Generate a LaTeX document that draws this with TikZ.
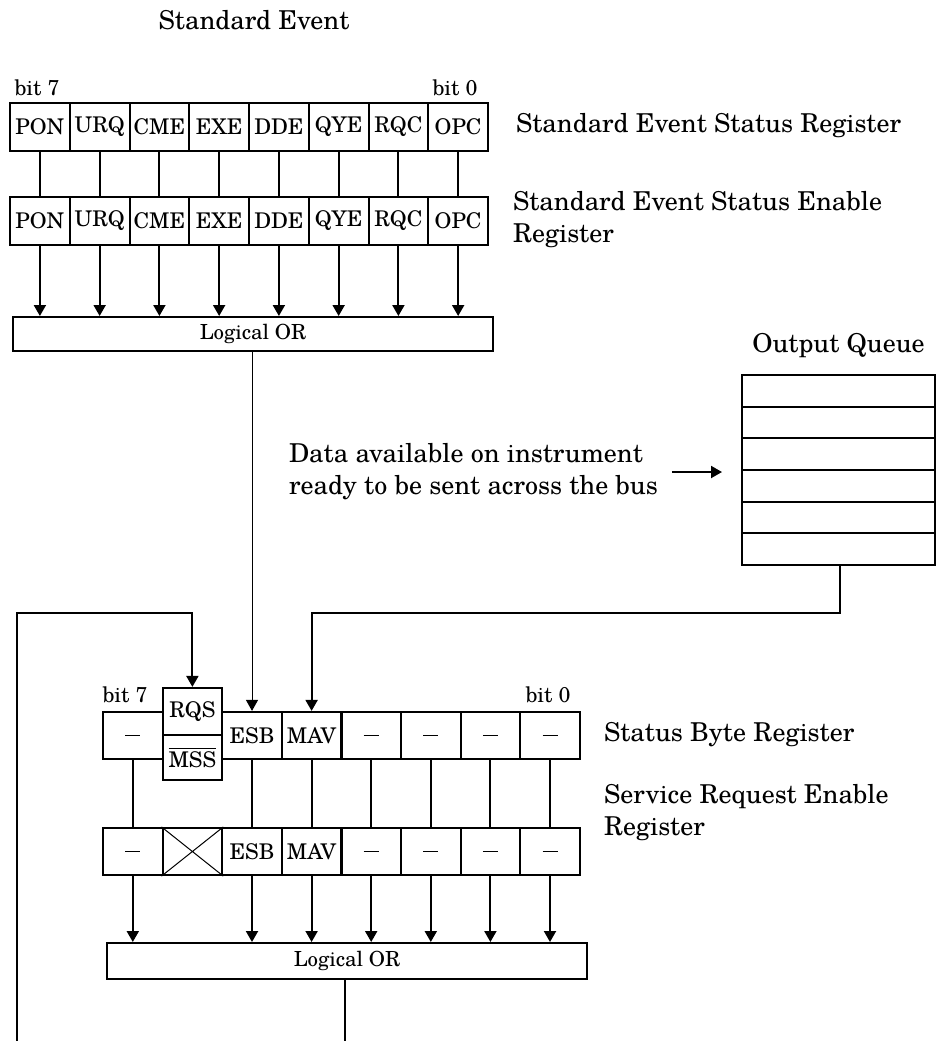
\documentclass[tikz,border=0pt]{standalone}
\usepackage{fontspec}
\setmainfont{TeX Gyre Schola}
\usetikzlibrary{arrows.meta}

\newcommand{\tiret}{\rule{7.5pt}{0.8pt}}

\tikzset{
  cell/.style={draw, minimum width=29.9pt, minimum height=23.6pt, inner sep=0pt,
    font=\fontsize{10.8}{12}\selectfont},
  orbox/.style={draw, minimum width=240pt, minimum height=17pt, inner sep=0pt,
    font=\fontsize{10.4}{12}\selectfont},
  lbl/.style={anchor=west, align=left, inner sep=0pt, font=\fontsize{13}{16}\selectfont},
  bitlbl/.style={inner sep=0pt, font=\fontsize{10.7}{12}\selectfont},
  fleche/.style={-{Triangle[width=6pt,length=5.5pt]}},
}

\begin{document}
\begin{tikzpicture}[x=0.5pt, y=-0.5pt, line width=1pt]
\useasboundingbox (0,0) rectangle (943,1041);

% Titre
\node[lbl, anchor=center] (titre) at (254,20) {Standard Event};
\node[bitlbl] (bitsept) at (37,88) {bit 7};
\node[bitlbl] (bitzero) at (455,88) {bit 0};

% Registres des evenements standard
\node[orbox] (or1) at (253,334) {Logical OR};
\foreach \nom [count=\i from 0] in {PON,URQ,CME,EXE,DDE,QYE,RQC,OPC} {
  \node[cell] (ses\i) at (39.9+59.75*\i,127) {\nom};
  \node[cell] (see\i) at (39.9+59.75*\i,221) {\nom};
  \draw (ses\i) -- (see\i);
  \draw[fleche] (see\i) -- (see\i |- or1.north);
}
\node[lbl] (nomses) at (515,126) {Standard Event Status Register};
\node[lbl] (nomsee) at (512,220) {Standard Event Status Enable\\Register};

% File de sortie
\node[lbl, anchor=center] (titreq) at (838.5,346) {Output Queue};
\foreach \i in {1,...,6}
  \node[draw, minimum width=96.5pt, minimum height=15.83pt, inner sep=0pt]
    (q\i) at (838.5,359.2+31.67*\i) {};
\node[lbl] (donnees) at (288,472) {Data available on instrument\\ready to be sent across the bus};
\coordinate (fin) at (722,472);
\draw[fleche] ([xshift=6.5pt]donnees.east) -- (fin);

% Octet d'etat
\node[bitlbl] (bitseptb) at (125,695) {bit 7};
\node[bitlbl] (bitzerob) at (548,695) {bit 0};
\node[cell] (sbr0) at (132.8,735.5) {\tiret};
\foreach \nom [count=\i from 2] in {ESB,MAV,\tiret,\tiret,\tiret,\tiret}
  \node[cell] (sbr\i) at (132.8+59.6*\i,735.5) {\nom};
\node[cell] (rqs) at (192.4,711.5) {RQS};
\node[cell, minimum height=22.5pt] (mss) at (192.4,757.5) {$\overline{\hbox{MSS}}$};
\node[lbl] (nomsbr) at (603,735) {Status Byte Register};

% Validation des demandes de service
\node[orbox, minimum height=18pt] (or2) at (347,961) {Logical OR};
\foreach \nom [count=\i from 0] in {\tiret,{},ESB,MAV,\tiret,\tiret,\tiret,\tiret}
  \node[cell] (srer\i) at (132.8+59.6*\i,851.5) {\nom};
\draw[line width=0.5pt] (srer1.north west) -- (srer1.south east)
  (srer1.south west) -- (srer1.north east);
\foreach \i in {0,2,3,4,5,6,7} {
  \draw (sbr\i) -- (srer\i);
  \draw[fleche] (srer\i) -- (srer\i |- or2.north);
}
\node[lbl] (nomsrer) at (603,813) {Service Request Enable\\Register};

% Liaisons
\draw[fleche, line width=0.5pt] (or1.south -| sbr2.north) -- (sbr2.north);
\coordinate (coude) at (840,613);
\draw[fleche] (q6.south -| coude) -- (coude) -| (sbr3.north);
\coordinate (sortie) at (345,1041);
\draw (sortie |- or2.south) -- (sortie);
\coordinate (retour) at (17,1041);
\coordinate (coin) at (17,613);
\draw[fleche] (retour) -- (coin) -| (rqs.north);

\end{tikzpicture}
\end{document}
